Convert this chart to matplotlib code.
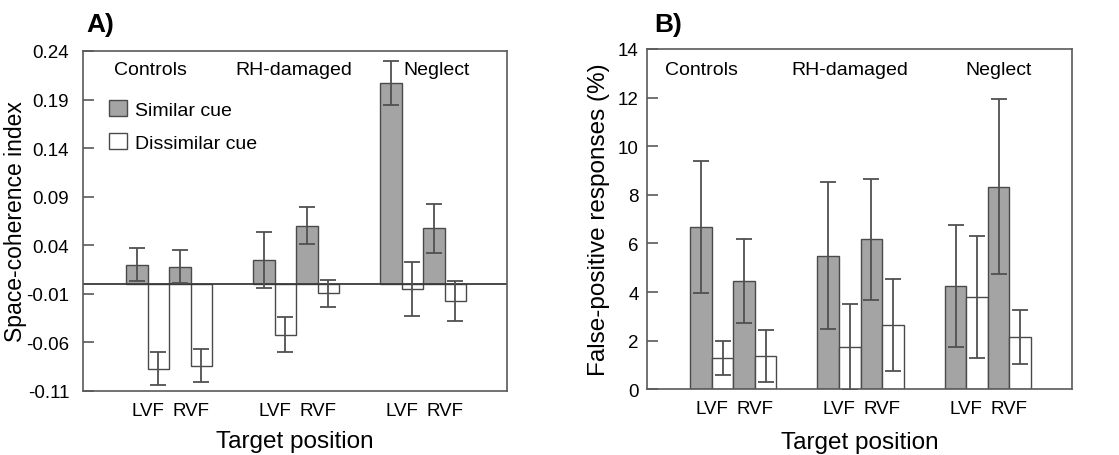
import numpy as np
import matplotlib
matplotlib.use('Agg')
import matplotlib.pyplot as plt
from matplotlib.patches import Patch

plt.rcParams['font.family'] = ['Liberation Sans', 'DejaVu Sans']

groups = ['Controls', 'RH-damaged', 'Neglect']
fields = ['LVF', 'RVF']

# panel A: space-coherence index
sim_lvf_a = [0.020, 0.0245, 0.207]
sim_rvf_a = [0.018, 0.060, 0.0575]
dis_lvf_a = [-0.087, -0.052, -0.005]
dis_rvf_a = [-0.084, -0.0095, -0.0174]
sim_lvf_a_err = [0.017, 0.029, 0.0225]
sim_rvf_a_err = [0.017, 0.019, 0.025]
dis_lvf_a_err = [0.017, 0.0177, 0.028]
dis_rvf_a_err = [0.017, 0.014, 0.021]
yticks_a = [-0.11, -0.06, -0.01, 0.04, 0.09, 0.14, 0.19, 0.24]

# panel B: false-positive responses (%)
sim_lvf_b = [6.68, 5.49, 4.25]
sim_rvf_b = [4.46, 6.17, 8.33]
dis_lvf_b = [1.28, 1.73, 3.80]
dis_rvf_b = [1.36, 2.65, 2.15]
sim_lvf_b_err = [2.73, 3.03, 2.52]
sim_rvf_b_err = [1.74, 2.50, 3.60]
dis_lvf_b_err = [0.70, 1.77, 2.50]
dis_rvf_b_err = [1.07, 1.88, 1.13]
yticks_b = [0, 2, 4, 6, 8, 10, 12, 14]

sim_color = '#a4a4a4'
edge = '#4a4a4a'
err_color = '#505050'
spine_color = '#5a5a5a'

fig = plt.figure(figsize=(11.19, 4.56), dpi=100)
axA = fig.add_axes([0.0742, 0.1404, 0.3789, 0.7456])
axB = fig.add_axes([0.5782, 0.1441, 0.3798, 0.7463])

centers = np.array([4.0, 9.9, 15.8])


def draw_panel(ax, sl, dl, sr, dr, sle, dle, sre, dre):
    series = [(sl, sle, sim_color, -1.5), (dl, dle, 'white', -0.5),
              (sr, sre, sim_color, 0.5), (dr, dre, 'white', 1.5)]
    for vals, errs, col, off in series:
        x = centers + off
        ax.bar(x, vals, width=1.0, color=col, edgecolor=edge, linewidth=1.0, zorder=2)
        ax.errorbar(x, vals, yerr=errs, fmt='none', ecolor=err_color,
                    elinewidth=1.3, capsize=6, capthick=1.3, zorder=3)
    ax.set_xlim(0, 19.7)
    xt = []
    xl = []
    for c in centers:
        xt += [c - 1, c + 1]
        xl += fields
    ax.set_xticks(xt)
    ax.set_xticklabels(xl)
    ax.tick_params(axis='x', length=0, pad=8, labelsize=13.5)
    ax.tick_params(axis='y', direction='in', length=8, width=1.2,
                   color=spine_color, labelsize=13.5)
    for s in ax.spines.values():
        s.set_color(spine_color)
        s.set_linewidth(1.2)
    ax.set_xlabel('Target position', fontsize=17.5)


draw_panel(axA, sim_lvf_a, dis_lvf_a, sim_rvf_a, dis_rvf_a,
           sim_lvf_a_err, dis_lvf_a_err, sim_rvf_a_err, dis_rvf_a_err)
axA.axhline(0, color='#3a3a3a', linewidth=1.3, zorder=2.5)
axA.set_ylim(-0.11, 0.24)
axA.set_yticks(yticks_a)
axA.set_yticklabels(['%.2f' % t for t in yticks_a])
axA.tick_params(axis='y', pad=10)
axA.set_ylabel('Space-coherence index', fontsize=16.5)
axA.yaxis.set_label_coords(-0.133, 0.5)
axA.xaxis.set_label_coords(0.5, -0.115)
for g, gx in zip(groups, [0.160, 0.498, 0.835]):
    axA.text(gx, 0.945, g, transform=axA.transAxes, ha='center', va='center', fontsize=14)
axA.legend(handles=[Patch(facecolor=sim_color, edgecolor=edge, label='Similar cue'),
                    Patch(facecolor='white', edgecolor=edge, label='Dissimilar cue')],
           loc='upper left', bbox_to_anchor=(0.062, 0.855), frameon=False, fontsize=14,
           handlelength=0.9, handleheight=0.9, handletextpad=0.4, labelspacing=0.72,
           borderpad=0, borderaxespad=0)

draw_panel(axB, sim_lvf_b, dis_lvf_b, sim_rvf_b, dis_rvf_b,
           sim_lvf_b_err, dis_lvf_b_err, sim_rvf_b_err, dis_rvf_b_err)
axB.set_ylim(0, 14)
axB.set_yticks(yticks_b)
axB.tick_params(axis='y', pad=6)
axB.set_ylabel('False-positive responses (%)', fontsize=17.5)
axB.yaxis.set_label_coords(-0.088, 0.5)
axB.xaxis.set_label_coords(0.5, -0.122)
for g, gx in zip(groups, [0.127, 0.478, 0.828]):
    axB.text(gx, 0.939, g, transform=axB.transAxes, ha='center', va='center', fontsize=14)

fig.text(86 / 1119, 1 - 32 / 456, 'A)', fontsize=19, fontweight='bold', va='baseline')
fig.text(654 / 1119, 1 - 32 / 456, 'B)', fontsize=19, fontweight='bold', va='baseline')

fig.savefig('out.png', dpi=100)
